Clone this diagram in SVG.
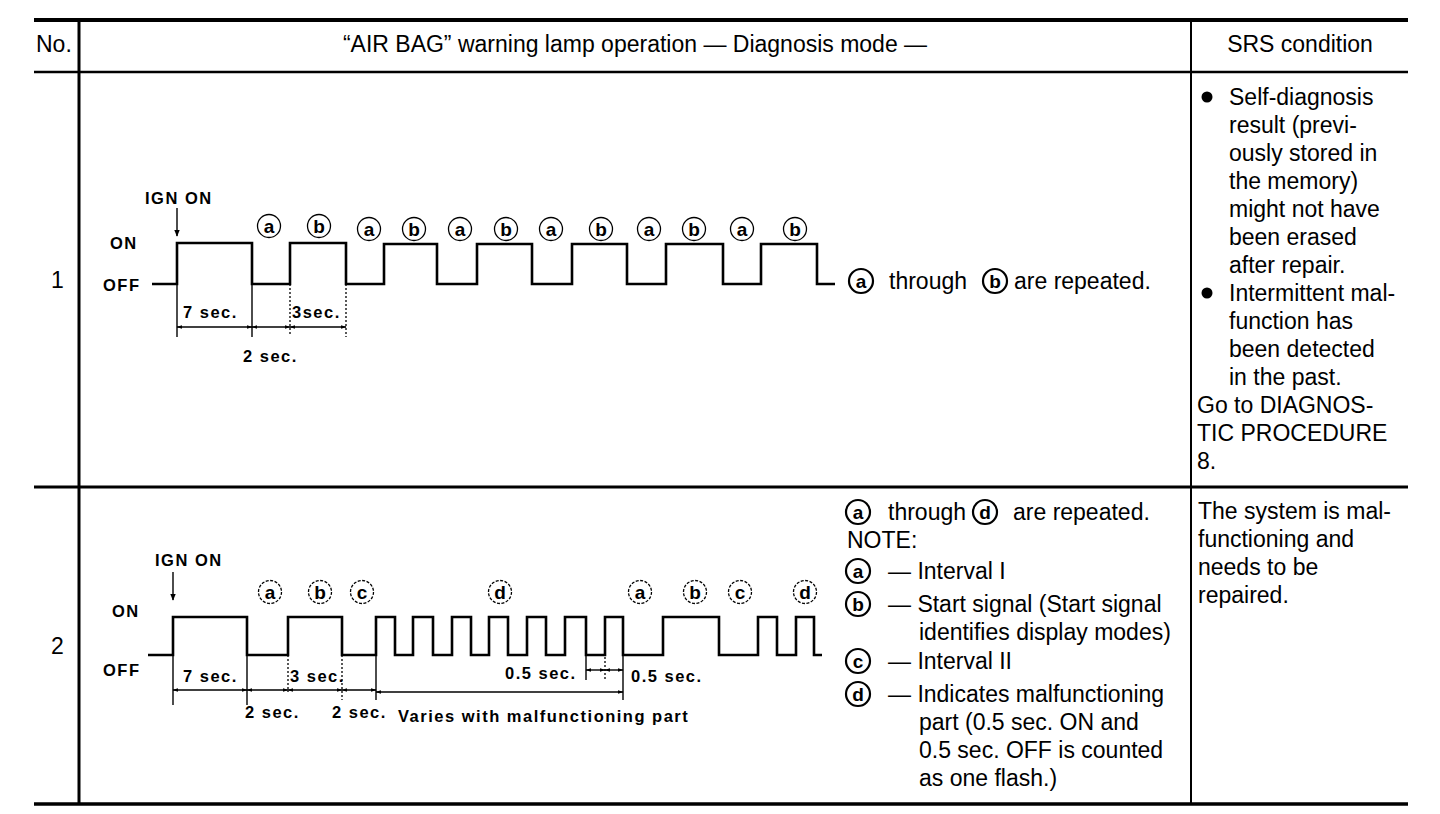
<svg xmlns="http://www.w3.org/2000/svg" width="1440" height="814" viewBox="0 0 1440 814">
<defs>
<style>
.t{font-family:"Liberation Sans",Arial,sans-serif;font-size:23px;fill:#000}
.w{font-family:"Liberation Sans",Arial,sans-serif;font-size:16.5px;font-weight:bold;letter-spacing:1.5px;fill:#000}
.c{font-family:"Liberation Sans",Arial,sans-serif;font-size:19px;font-weight:bold;fill:#000;text-anchor:middle}
.cb{font-family:"Liberation Sans",Arial,sans-serif;font-size:19px;font-weight:bold;fill:#000;text-anchor:middle}
.circ{fill:none;stroke:#000;stroke-width:1.3}
.circb{fill:none;stroke:#000;stroke-width:2.2}
.wave{fill:none;stroke:#000;stroke-width:2.6;stroke-linejoin:miter}
.dim{fill:none;stroke:#000;stroke-width:1.4}
.dot{fill:none;stroke:#000;stroke-width:1.3;stroke-dasharray:2 2}
.rule{stroke:#000}
</style>
<marker id="ar" viewBox="0 0 10 10" refX="9" refY="5" markerWidth="5" markerHeight="5" orient="auto-start-reverse">
<path d="M0,1 L10,5 L0,9 z" fill="#000"/>
</marker>
<marker id="da" viewBox="0 0 10 10" refX="9" refY="5" markerWidth="4" markerHeight="4" orient="auto-start-reverse">
<path d="M0,2 L10,5 L0,8 z" fill="#000"/>
</marker>
</defs>
<rect width="1440" height="814" fill="#fff"/>

<g id="table">
<line class="rule" x1="34" y1="20" x2="1408" y2="20" stroke-width="4"/>
<line class="rule" x1="34" y1="72" x2="1408" y2="72" stroke-width="2.5"/>
<line class="rule" x1="34" y1="487" x2="1408" y2="487" stroke-width="2.8"/>
<line class="rule" x1="34" y1="804" x2="1408" y2="804" stroke-width="3.5"/>
<line class="rule" x1="79" y1="20" x2="79" y2="804" stroke-width="3"/>
<line class="rule" x1="1191" y1="20" x2="1191" y2="804" stroke-width="2"/>
<text class="t" x="36" y="52">No.</text>
<text class="t" x="635" y="52" text-anchor="middle">“AIR BAG” warning lamp operation — Diagnosis mode —</text>
<text class="t" x="1300" y="52" text-anchor="middle">SRS condition</text>
<text class="t" x="51" y="288">1</text>
<text class="t" x="51" y="654">2</text>
</g>

<g id="row1-waveform">
<text class="w" x="145" y="204" letter-spacing="2.5">IGN ON</text>
<line class="dim" x1="177" y1="208" x2="177" y2="236" marker-end="url(#ar)"/>
<text class="w" x="110" y="249">ON</text>
<text class="w" x="103" y="291">OFF</text>
<path class="wave" d="M152,284 H177 V243 H252 V284 H290 V243 H346 V284 H384 V244 H437 V284 H477 V244 H532 V284 H572 V244 H627 V284 H666 V244 H723 V284 H761 V244 H817 V284 H835"/>
<g id="row1-labels">
<circle class="circ" cx="269" cy="226" r="11.5"/><text class="c" x="269" y="233">a</text>
<circle class="circ" cx="319" cy="226" r="11.5"/><text class="c" x="319" y="233">b</text>
<circle class="circ" cx="369" cy="229" r="11.5"/><text class="c" x="369" y="236">a</text>
<circle class="circ" cx="414" cy="229" r="11.5"/><text class="c" x="414" y="236">b</text>
<circle class="circ" cx="460" cy="229" r="11.5"/><text class="c" x="460" y="236">a</text>
<circle class="circ" cx="506" cy="229" r="11.5"/><text class="c" x="506" y="236">b</text>
<circle class="circ" cx="551" cy="229" r="11.5"/><text class="c" x="551" y="236">a</text>
<circle class="circ" cx="601" cy="229" r="11.5"/><text class="c" x="601" y="236">b</text>
<circle class="circ" cx="649" cy="229" r="11.5"/><text class="c" x="649" y="236">a</text>
<circle class="circ" cx="694" cy="229" r="11.5"/><text class="c" x="694" y="236">b</text>
<circle class="circ" cx="742" cy="229" r="11.5"/><text class="c" x="742" y="236">a</text>
<circle class="circ" cx="795" cy="229" r="11.5"/><text class="c" x="795" y="236">b</text>
</g>
</g>

<g id="row1-dimensions">
<line class="dim" x1="177" y1="284" x2="177" y2="337"/>
<line class="dim" x1="252" y1="284" x2="252" y2="337"/>
<line class="dot" x1="290" y1="284" x2="290" y2="335"/>
<line class="dot" x1="346" y1="284" x2="346" y2="337"/>
<line class="dim" x1="177" y1="327" x2="252" y2="327" marker-start="url(#da)" marker-end="url(#da)"/>
<line class="dim" x1="252" y1="327" x2="290" y2="327" marker-start="url(#da)" marker-end="url(#da)"/>
<line class="dim" x1="290" y1="327" x2="346" y2="327" marker-start="url(#da)" marker-end="url(#da)"/>
<text class="w" x="183" y="318">7 sec.</text>
<text class="w" x="292" y="318" letter-spacing="0.3">3sec.</text>
<text class="w" x="243" y="362">2 sec.</text>
</g>

<g id="row1-note">
<circle class="circb" cx="861" cy="281" r="12"/><text class="cb" x="861" y="288">a</text>
<text class="t" x="889" y="289">through</text>
<circle class="circb" cx="995" cy="281" r="12"/><text class="cb" x="995" y="288">b</text>
<text class="t" x="1014" y="289">are repeated.</text>
</g>

<g id="row1-condition">
<circle cx="1207" cy="97" r="5.5" fill="#000"/>
<text class="t" x="1229" y="105">Self-diagnosis</text>
<text class="t" x="1229" y="133">result (previ-</text>
<text class="t" x="1229" y="161">ously stored in</text>
<text class="t" x="1229" y="189">the memory)</text>
<text class="t" x="1229" y="217">might not have</text>
<text class="t" x="1229" y="245">been erased</text>
<text class="t" x="1229" y="273">after repair.</text>
<circle cx="1207" cy="293" r="5.5" fill="#000"/>
<text class="t" x="1229" y="301">Intermittent mal-</text>
<text class="t" x="1229" y="329">function has</text>
<text class="t" x="1229" y="357">been detected</text>
<text class="t" x="1229" y="385">in the past.</text>
<text class="t" x="1197" y="413">Go to DIAGNOS-</text>
<text class="t" x="1197" y="441">TIC PROCEDURE</text>
<text class="t" x="1197" y="469">8.</text>
</g>

<g id="row2-waveform">
<text class="w" x="155" y="566" letter-spacing="2.5">IGN ON</text>
<line class="dim" x1="173" y1="572" x2="173" y2="600" marker-end="url(#ar)"/>
<text class="w" x="112" y="617">ON</text>
<text class="w" x="103" y="676">OFF</text>
<path class="wave" d="M148,655 H173 V617 H247 V655 H288 V617 H342 V655 H376 V617 H395 V655 H413 V617 H433 V655 H452 V617 H471 V655 H489 V617 H508 V655 H527 V617 H546 V655 H565 V617 H586 V655 H605 V617 H623 V655 H663 V617 H719 V655 H758 V617 H777 V655 H796 V617 H814 V655 H822"/>
<g id="row2-labels">
<circle class="circ" cx="270" cy="592" r="11.5" stroke-dasharray="3 1.5"/><text class="c" x="270" y="599">a</text>
<circle class="circ" cx="320" cy="592" r="11.5" stroke-dasharray="3 1.5"/><text class="c" x="320" y="599">b</text>
<circle class="circ" cx="362" cy="592" r="11.5" stroke-dasharray="3 1.5"/><text class="c" x="362" y="599">c</text>
<circle class="circ" cx="500" cy="592" r="11.5" stroke-dasharray="3 1.5"/><text class="c" x="500" y="599">d</text>
<circle class="circ" cx="640" cy="592" r="11.5" stroke-dasharray="3 1.5"/><text class="c" x="640" y="599">a</text>
<circle class="circ" cx="695" cy="592" r="11.5" stroke-dasharray="3 1.5"/><text class="c" x="695" y="599">b</text>
<circle class="circ" cx="740" cy="592" r="11.5" stroke-dasharray="3 1.5"/><text class="c" x="740" y="599">c</text>
<circle class="circ" cx="805" cy="592" r="11.5" stroke-dasharray="3 1.5"/><text class="c" x="805" y="599">d</text>
</g>
</g>

<g id="row2-dimensions">
<line class="dim" x1="173" y1="655" x2="173" y2="705"/>
<line class="dim" x1="247" y1="655" x2="247" y2="705"/>
<line class="dot" x1="288" y1="655" x2="288" y2="692"/>
<line class="dot" x1="342" y1="655" x2="342" y2="700"/>
<line class="dim" x1="376" y1="655" x2="376" y2="700"/>
<line class="dim" x1="623" y1="655" x2="623" y2="700"/>
<line class="dim" x1="586" y1="655" x2="586" y2="680"/>
<line class="dot" x1="605" y1="617" x2="605" y2="680"/>
<line class="dim" x1="173" y1="690" x2="247" y2="690" marker-start="url(#da)" marker-end="url(#da)"/>
<line class="dim" x1="247" y1="690" x2="288" y2="690" marker-start="url(#da)" marker-end="url(#da)"/>
<line class="dim" x1="288" y1="690" x2="342" y2="690" marker-start="url(#da)" marker-end="url(#da)"/>
<line class="dim" x1="342" y1="690" x2="376" y2="690" marker-start="url(#da)" marker-end="url(#da)"/>
<line class="dim" x1="376" y1="692" x2="623" y2="692" marker-start="url(#da)" marker-end="url(#da)"/>
<line class="dim" x1="586" y1="670" x2="605" y2="670" marker-start="url(#da)" marker-end="url(#da)"/>
<line class="dim" x1="605" y1="670" x2="623" y2="670" marker-start="url(#da)" marker-end="url(#da)"/>
<text class="w" x="183" y="682">7 sec.</text>
<text class="w" x="290" y="682" letter-spacing="0.8">3 sec.</text>
<text class="w" x="245" y="718">2 sec.</text>
<text class="w" x="332" y="718">2 sec.</text>
<text class="w" x="398" y="722" letter-spacing="1.2">Varies with malfunctioning part</text>
<text class="w" x="505" y="679">0.5 sec.</text>
<text class="w" x="631" y="682">0.5 sec.</text>
</g>

<g id="row2-note">
<circle class="circb" cx="858" cy="512" r="12"/><text class="cb" x="858" y="519">a</text>
<text class="t" x="888" y="520">through</text>
<circle class="circb" cx="985" cy="512" r="12"/><text class="cb" x="985" y="519">d</text>
<text class="t" x="1013" y="520">are repeated.</text>
<text class="t" x="847" y="548">NOTE:</text>
<circle class="circb" cx="858" cy="571" r="12"/><text class="cb" x="858" y="578">a</text>
<text class="t" x="888" y="579">— Interval I</text>
<circle class="circb" cx="858" cy="604" r="12"/><text class="cb" x="858" y="611">b</text>
<text class="t" x="888" y="612">— Start signal (Start signal</text>
<text class="t" x="919" y="640">identifies display modes)</text>
<circle class="circb" cx="858" cy="661" r="12"/><text class="cb" x="858" y="668">c</text>
<text class="t" x="888" y="669">— Interval II</text>
<circle class="circb" cx="858" cy="694" r="12"/><text class="cb" x="858" y="701">d</text>
<text class="t" x="888" y="702">— Indicates malfunctioning</text>
<text class="t" x="919" y="730">part (0.5 sec. ON and</text>
<text class="t" x="919" y="758">0.5 sec. OFF is counted</text>
<text class="t" x="919" y="786">as one flash.)</text>
</g>

<g id="row2-condition">
<text class="t" x="1198" y="519">The system is mal-</text>
<text class="t" x="1198" y="547">functioning and</text>
<text class="t" x="1198" y="575">needs to be</text>
<text class="t" x="1198" y="603">repaired.</text>
</g>
</svg>
